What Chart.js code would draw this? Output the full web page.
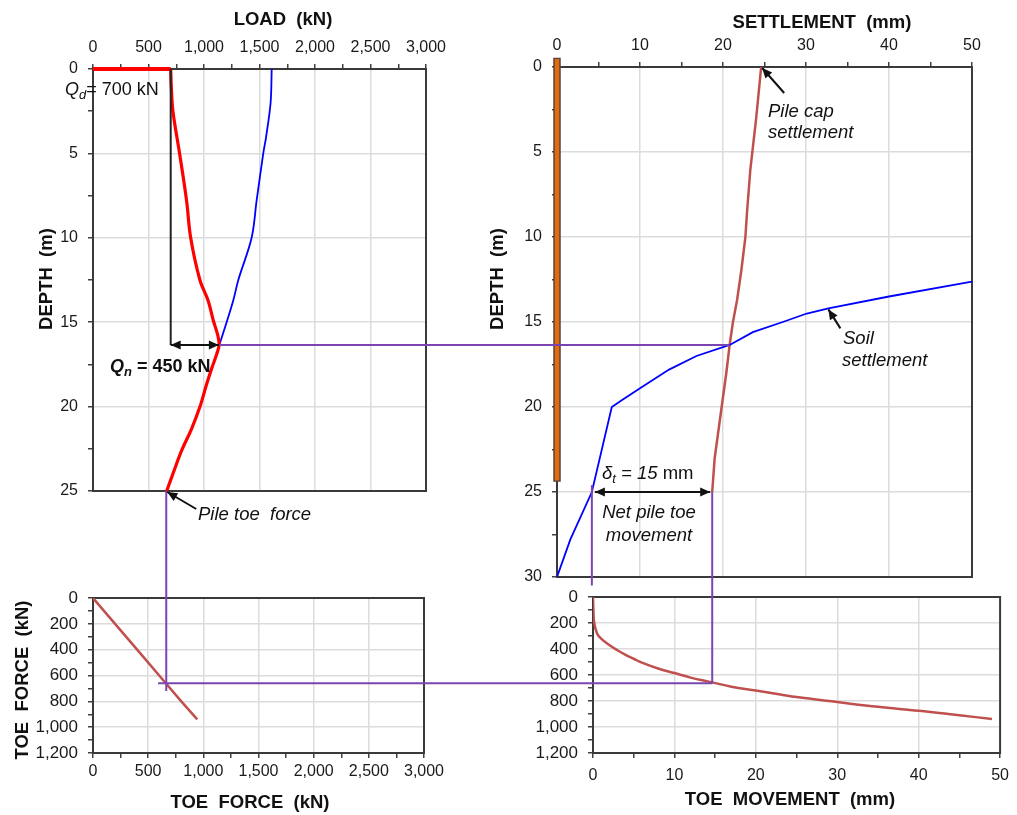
<!DOCTYPE html>
<html>
<head>
<meta charset="utf-8">
<title>Pile load, settlement and toe response</title>
<script src="https://cdn.jsdelivr.net/npm/chart.js@4.4.1/dist/chart.umd.min.js"></script>
<style>
    body { margin: 0; background: #fff; }
    #wrap { position: relative; width: 1017px; height: 815px; }
    #wrap canvas { position: absolute; left: 0; top: 0; }
</style>
</head>
<body>
<div id="wrap">
    <canvas id="chartLoad" width="1017" height="815"></canvas>
    <canvas id="chartSettle" width="1017" height="815"></canvas>
    <canvas id="chartToeForce" width="1017" height="815"></canvas>
    <canvas id="chartToeMove" width="1017" height="815"></canvas>
    <canvas id="overlay" width="1017" height="815"></canvas>
</div>
<script>
// ---- load vs depth (top left)
var pileLoadDepth = [0, 0, 1, 2.5, 5, 7.8, 10, 12.5, 13.7, 14.9, 15.8, 16.35, 16.9, 17.75, 18.8, 20, 21.3, 22.6, 23.8, 25];
var pileLoad = [0, 700, 705, 720, 780, 843, 880, 963, 1036, 1084, 1125, 1136, 1114, 1069, 1018, 964, 889, 799, 730, 664];
var resistDepth = [0, 2, 4, 5, 7.8, 10, 12.5, 13.7, 15, 16.35];
var resistLoad = [1610, 1600, 1560, 1534, 1474, 1429, 1309, 1264, 1204, 1138];

// ---- settlement vs depth (top right)
var pileDepth = [-0.55, 24.4];
var pileX = [0, 0];
var pileSettleDepth = [0, 3, 6, 8.5, 10, 12, 13.7, 15, 16.35, 18, 19.6, 23, 25];
var pileSettle = [24.6, 24.0, 23.3, 22.9, 22.7, 22.2, 21.7, 21.2, 20.8, 20.4, 19.95, 19.0, 18.7];
var soilDepth = [30, 27.8, 25, 20, 19.6, 18.9, 17.8, 17.0, 16.35, 15.6, 15.0, 14.5, 14.2, 13.5, 12.63];
var soilSettle = [0, 1.6, 4.2, 6.6, 7.8, 10, 13.5, 16.8, 20.8, 23.6, 27.2, 30.1, 32.7, 40, 50];

// ---- toe force vs toe force (bottom left)
var toeForceX = [0, 200, 400, 600, 800, 945];
var toeForceY = [0, 200, 400, 600, 800, 940];

// ---- toe force vs toe movement (bottom right)
var toeMovement = [0, 0.05, 0.15, 0.5, 1, 2, 3, 4, 5, 6, 8, 10, 12, 14.5, 17, 20, 23, 25, 30, 35, 40, 45, 49];
var toeMoveForce = [0, 100, 200, 280, 320, 370, 410, 445, 475, 505, 550, 585, 620, 655, 690, 720, 750, 770, 808, 845, 875, 910, 938];

// ---- key values used by the construction lines
var qd = 700;
var npDepth = 16.35;
var npLoad = 1138;
var npSettle = 20.8;
var toeDepth = 25;
var toeForce = 660;
var toePileSettle = 18.7;
var toeSoilSettle = 4.2;

var FONT = "'Liberation Sans', Arial, sans-serif";
var PURPLE = '#7a45b0';
Chart.defaults.font.family = FONT;
Chart.defaults.font.size = 16;
Chart.defaults.color = '#1a1a1a';
Chart.defaults.animation = false;

function xy(xs, ys) {
    return xs.map(function (v, i) { return { x: v, y: ys[i] }; });
}
function isMajor(v, major) {
    return Math.abs(v / major - Math.round(v / major)) < 1e-6;
}
function gridFor(major) {
    return {
        color: function (ctx) {
            return ctx.tick && isMajor(ctx.tick.value, major) ? '#dcdcdc' : 'rgba(0,0,0,0)';
        },
        lineWidth: 1.5,
        tickColor: '#404040',
        tickLength: 5,
        tickWidth: 1.5
    };
}
function axis(opts) {
    var size = opts.size;
    return {
        type: 'linear',
        position: opts.position,
        reverse: !!opts.reverse,
        min: opts.min,
        max: opts.max,
        grid: gridFor(opts.major),
        border: { color: '#3a3a3a', width: 2 },
        ticks: {
            stepSize: opts.step,
            autoSkip: false,
            maxRotation: 0,
            padding: opts.pad,
            font: { size: opts.fontSize || 16 },
            callback: function (v) { return isMajor(v, opts.major) ? v.toLocaleString('en-US') : ''; }
        },
        afterFit: function (s) {
            if (s.isHorizontal()) { s.height = size; } else { s.width = size; }
        }
    };
}
// note: chart.js paints dataset 0 last, so list the top-most line first
function lineSet(data, color, width, extra) {
    var d = { data: data, showLine: true, borderColor: color, borderWidth: width, pointRadius: 0, tension: 0, fill: false };
    for (var k in extra) { d[k] = extra[k]; }
    return d;
}

var framePlugin = {
    id: 'frame',
    beforeDatasetsDraw: function (chart) {
        var a = chart.chartArea, c = chart.ctx;
        c.save();
        c.strokeStyle = '#3a3a3a';
        c.lineWidth = 2;
        c.strokeRect(a.left, a.top, a.right - a.left, a.bottom - a.top);
        c.restore();
    }
};

function makeChart(id, datasets, scales, padding) {
    return new Chart(document.getElementById(id), {
        type: 'scatter',
        data: { datasets: datasets },
        options: {
            responsive: false,
            devicePixelRatio: 1,
            layout: { padding: padding },
            plugins: { legend: { display: false }, tooltip: { enabled: false } },
            scales: scales
        },
        plugins: [framePlugin]
    });
}

var cLoad = makeChart('chartLoad', [
    lineSet(xy(pileLoad.slice(0, 2), pileLoadDepth.slice(0, 2)), '#ff0000', 4, { clip: false }),
    lineSet(xy(pileLoad.slice(1), pileLoadDepth.slice(1)), '#ff0000', 3.2, { tension: 0.35 }),
    lineSet(xy(resistLoad, resistDepth), '#0000ff', 1.8, { tension: 0.35 })
], {
    x: axis({ position: 'top', min: 0, max: 3000, step: 250, major: 500, pad: 7, size: 69 }),
    y: axis({ position: 'left', reverse: true, min: 0, max: 25, step: 2.5, major: 5, pad: 10, size: 93 })
}, { left: 0, top: 0, right: 1017 - 426, bottom: 815 - 491 });

var cSettle = makeChart('chartSettle', [
    lineSet(xy(soilSettle, soilDepth), '#0000ff', 1.8),
    lineSet(xy(pileSettle, pileSettleDepth), '#c0504d', 2.5),
    lineSet(xy(pileX, [pileDepth[0] + 0.08, pileDepth[1] - 0.08]), '#e36c0a', 4.5, { clip: false, borderCapStyle: 'butt' }),
    lineSet(xy(pileX, pileDepth), '#5a4040', 7.5, { clip: false, borderCapStyle: 'butt' })
], {
    x: axis({ position: 'top', min: 0, max: 50, step: 5, major: 10, pad: 7, size: 67 }),
    y: axis({ position: 'left', reverse: true, min: 0, max: 30, step: 2.5, major: 5, pad: 10, size: 52 })
}, { left: 505, top: 0, right: 1017 - 972, bottom: 815 - 577 });

var cToeF = makeChart('chartToeForce', [
    lineSet(xy(toeForceX, toeForceY), '#c0504d', 2.5)
], {
    x: axis({ position: 'bottom', min: 0, max: 3000, step: 250, major: 500, pad: 4, size: 62 }),
    y: axis({ position: 'left', reverse: true, min: 0, max: 1200, step: 100, major: 200, pad: 10, size: 93, fontSize: 17 })
}, { left: 0, top: 598, right: 1017 - 424, bottom: 0 });

var cToeM = makeChart('chartToeMove', [
    lineSet(xy(toeMovement, toeMoveForce), '#c0504d', 2.5, { tension: 0.4 })
], {
    x: axis({ position: 'bottom', min: 0, max: 50, step: 5, major: 10, pad: 8, size: 62 }),
    y: axis({ position: 'left', reverse: true, min: 0, max: 1200, step: 100, major: 200, pad: 10, size: 93, fontSize: 17 })
}, { left: 500, top: 597, right: 10, bottom: 0 });

// ---- overlay: construction lines, arrows and labels
var ov = document.getElementById('overlay').getContext('2d');

function px(chart, axisId, v) {
    return chart.scales[axisId].getPixelForValue(v);
}
function seg(x1, y1, x2, y2, color, width) {
    ov.save();
    ov.strokeStyle = color;
    ov.lineWidth = width;
    ov.beginPath();
    ov.moveTo(x1, y1);
    ov.lineTo(x2, y2);
    ov.stroke();
    ov.restore();
}
function head(x1, y1, x2, y2) {
    var a = Math.atan2(y2 - y1, x2 - x1), L = 10, W = 4.5;
    ov.save();
    ov.fillStyle = '#111';
    ov.translate(x2, y2);
    ov.rotate(a);
    ov.beginPath();
    ov.moveTo(0, 0);
    ov.lineTo(-L, -W);
    ov.lineTo(-L, W);
    ov.closePath();
    ov.fill();
    ov.restore();
}
function arrow(x1, y1, x2, y2, both) {
    seg(x1, y1, x2, y2, '#111', 2);
    head(x1, y1, x2, y2);
    if (both) { head(x2, y2, x1, y1); }
}
function f(style, size) {
    return style + ' ' + size + 'px ' + FONT;
}
function rich(x, y, parts, align) {
    var total = 0;
    parts.forEach(function (p) { ov.font = p.font; total += ov.measureText(p.t).width; });
    var cx = align === 'center' ? x - total / 2 : x;
    ov.save();
    ov.fillStyle = '#111';
    ov.textBaseline = 'alphabetic';
    parts.forEach(function (p) {
        ov.font = p.font;
        ov.fillText(p.t, cx, y + (p.dy || 0));
        cx += ov.measureText(p.t).width;
    });
    ov.restore();
}
function text(x, y, t, font, align) {
    rich(x, y, [{ t: t, font: font }], align);
}
function vtext(x, y, t, font) {
    ov.save();
    ov.translate(x, y);
    ov.rotate(-Math.PI / 2);
    ov.fillStyle = '#111';
    ov.font = font;
    ov.textAlign = 'center';
    ov.textBaseline = 'alphabetic';
    ov.fillText(t, 0, 0);
    ov.restore();
}

// axis titles
var TITLE = f('bold', 18.5);
text(283, 25, 'LOAD  (kN)', TITLE, 'center');
text(822, 28, 'SETTLEMENT  (mm)', TITLE, 'center');
text(250, 808, 'TOE  FORCE  (kN)', TITLE, 'center');
text(790, 805, 'TOE  MOVEMENT  (mm)', TITLE, 'center');
vtext(52, 279, 'DEPTH  (m)', TITLE);
vtext(503, 279, 'DEPTH  (m)', TITLE);
vtext(28, 680, 'TOE  FORCE  (kN)', TITLE);

// purple construction lines
var yNP = px(cLoad, 'y', npDepth);
seg(px(cLoad, 'x', npLoad), yNP, px(cSettle, 'x', npSettle), yNP, PURPLE, 2);
var xToeF = px(cLoad, 'x', toeForce);
seg(xToeF, px(cLoad, 'y', toeDepth), xToeF, px(cToeF, 'y', toeForce + 60), PURPLE, 2);
var yToeF = px(cToeF, 'y', toeForce);
var xToeM = px(cSettle, 'x', toePileSettle);
seg(px(cToeF, 'x', toeForce - 70), yToeF, xToeM, yToeF, PURPLE, 2);
seg(xToeM, yToeF, xToeM, px(cSettle, 'y', toeDepth), PURPLE, 2);
var xSoil = px(cSettle, 'x', toeSoilSettle);
seg(xSoil, px(cSettle, 'y', toeDepth - 0.4), xSoil, px(cSettle, 'y', 30.5), PURPLE, 2);

// Qd line and Qn dimension
var xQd = px(cLoad, 'x', qd);
seg(xQd, px(cLoad, 'y', 0), xQd, yNP, '#222', 2);
arrow(xQd, yNP, px(cLoad, 'x', npLoad - 4), yNP, true);
rich(65, 95, [
    { t: 'Q', font: f('italic', 18) },
    { t: 'd', font: f('italic', 13), dy: 4 },
    { t: '= 700 kN', font: f('normal', 18) }
]);
rich(110, 372, [
    { t: 'Q', font: f('italic bold', 18) },
    { t: 'n', font: f('italic bold', 13), dy: 4 },
    { t: ' = 450 kN', font: f('bold', 18) }
]);

// pile toe force
var xT = px(cLoad, 'x', toeForce), yT = px(cLoad, 'y', toeDepth);
arrow(xT + 30, yT + 18, xT + 1, yT + 1);
text(198, 520, 'Pile toe  force', f('italic', 18.5));

// pile cap settlement
var xC = px(cSettle, 'x', pileSettle[0]), yC = px(cSettle, 'y', 0);
arrow(xC + 23, yC + 26, xC + 1, yC + 1);
text(768, 117, 'Pile cap', f('italic', 18.5));
text(768, 138, 'settlement', f('italic', 18.5));

// soil settlement
var xS = px(cSettle, 'x', soilSettle[12]), yS = px(cSettle, 'y', soilDepth[12]);
arrow(xS + 12, yS + 20, xS, yS + 1);
text(843, 344, 'Soil', f('italic', 18.5));
text(842, 366, 'settlement', f('italic', 18.5));

// net pile toe movement
var yToe = px(cSettle, 'y', toeDepth);
arrow(xSoil + 3, yToe, xToeM - 2, yToe, true);
rich(602, 479, [
    { t: 'δ', font: f('italic', 18.5) },
    { t: 't', font: f('italic', 13), dy: 4 },
    { t: ' = 15', font: f('italic', 18.5) },
    { t: ' mm', font: f('normal', 18.5) }
]);
text(649, 518, 'Net pile toe', f('italic', 18.5), 'center');
text(649, 541, 'movement', f('italic', 18.5), 'center');
</script>
</body>
</html>
